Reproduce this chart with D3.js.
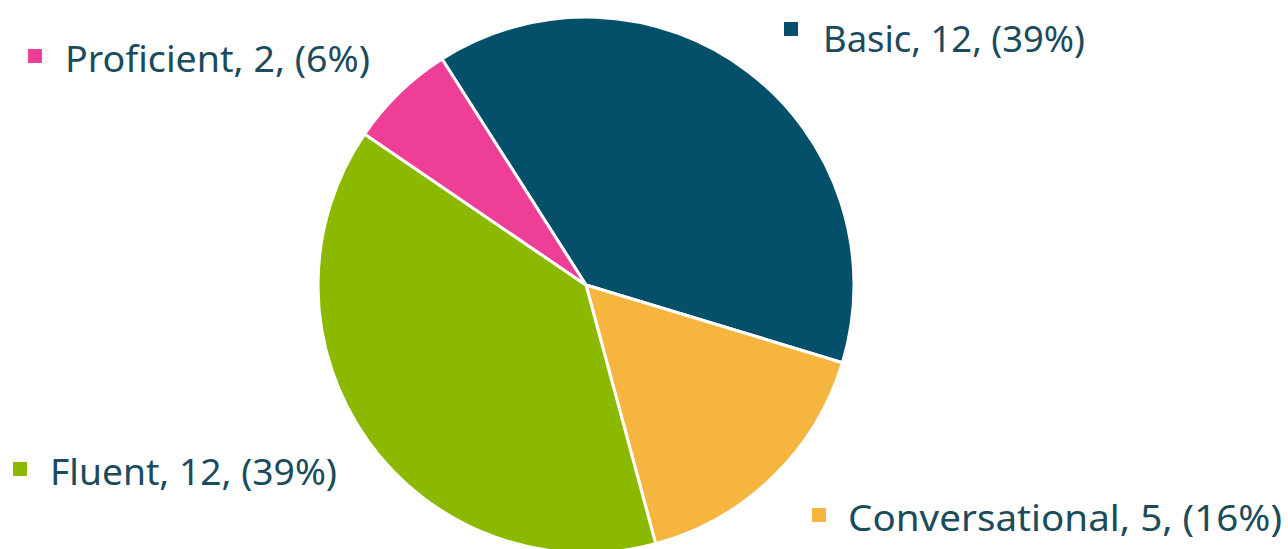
<!DOCTYPE html>
<html>
<head>
<meta charset="utf-8">
<script src="https://cdn.jsdelivr.net/npm/d3@7"></script>
<style>
  html, body { margin: 0; padding: 0; background: #ffffff; }
  svg { display: block; }
</style>
</head>
<body>
<svg id="chart" width="1288" height="549"></svg>
<script>
// Language level of respondents
const categories = ["Basic", "Conversational", "Fluent", "Proficient"];
const counts = [12, 5, 12, 2];
const colors = ["#044f6a", "#f6b53f", "#8bb900", "#ee3e96"];

// Legend placement for each category (marker centre, text start, baseline, text width)
const legendLayout = {
  Basic:          { mx: 791, my: 29,  tx: 823, ty: 52,  tw: 262 },
  Conversational: { mx: 819, my: 515, tx: 848, ty: 531, tw: 434 },
  Fluent:         { mx: 20,  my: 469, tx: 50,  ty: 485, tw: 287 },
  Proficient:     { mx: 35,  my: 56,  tx: 65,  ty: 72,  tw: 305 }
};

const width = 1288, height = 549;
const cx = 586, cy = 285, radius = 268;
const startDeg = -32.5;

const svg = d3.select("#chart");
const data = categories.map((c, i) => ({ name: c, value: counts[i] }));
const total = d3.sum(counts);

const color = d3.scaleOrdinal().domain(categories).range(colors);

const pie = d3.pie()
  .sort(null)
  .value(d => d.value)
  .startAngle(startDeg * Math.PI / 180)
  .endAngle(startDeg * Math.PI / 180 + 2 * Math.PI);

const arc = d3.arc().innerRadius(0).outerRadius(radius);

svg.append("g")
  .attr("transform", `translate(${cx},${cy})`)
  .selectAll("path")
  .data(pie(data))
  .join("path")
  .attr("d", arc)
  .attr("fill", d => color(d.data.name))
  .attr("stroke", "#ffffff")
  .attr("stroke-width", 3)
  .attr("stroke-linejoin", "round");

// Legend entries: "Name, count, (pct%)"
const legend = svg.append("g");
const markerSize = 14;
data.forEach(d => {
  const L = legendLayout[d.name];
  const pct = Math.round(d.value / total * 100);
  legend.append("rect")
    .attr("x", L.mx - markerSize / 2)
    .attr("y", L.my - markerSize / 2)
    .attr("width", markerSize)
    .attr("height", markerSize)
    .attr("fill", color(d.name));
  legend.append("text")
    .attr("x", L.tx)
    .attr("y", L.ty)
    .attr("font-family", "'Century Gothic', 'URW Gothic', 'Noto Sans', sans-serif")
    .attr("font-size", 37)
    .attr("fill", "#1b4b5c")
    .attr("textLength", L.tw)
    .attr("lengthAdjust", "spacingAndGlyphs")
    .text(`${d.name}, ${d.value}, (${pct}%)`);
});
</script>
</body>
</html>
